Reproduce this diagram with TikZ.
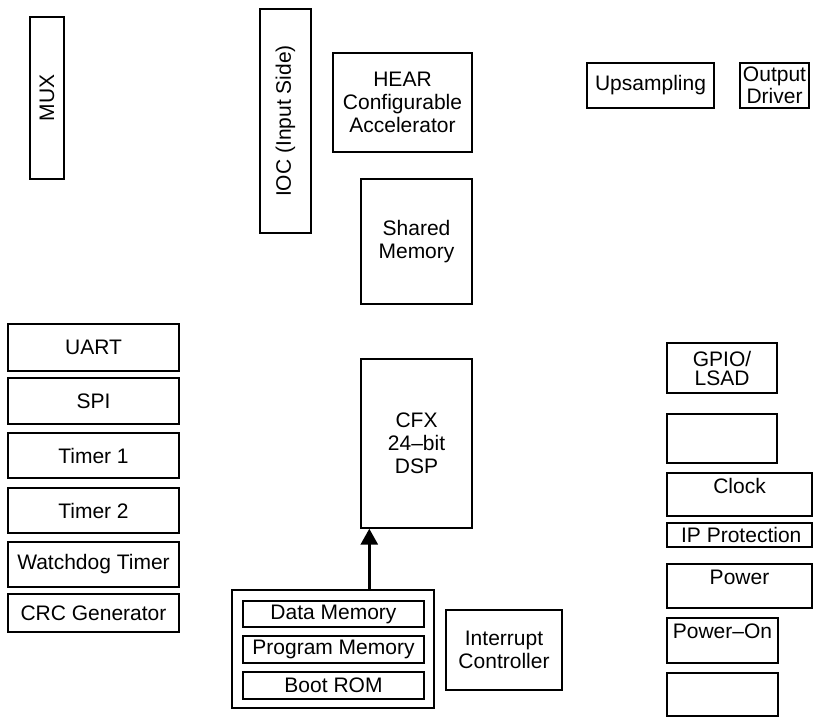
\documentclass[tikz,border=0pt]{standalone}
\usepackage{fontspec}
\setmainfont{Liberation Sans}
\usetikzlibrary{positioning,arrows.meta}

\tikzset{
  blk/.style={draw, line width=0.7pt, inner sep=1pt, align=center,
    font=\fontsize{10.5}{11.5}\selectfont},
  lbl/.style={inner sep=0pt, font=\fontsize{10.5}{11.5}\selectfont},
  busarrow/.style={line width=1.5pt, -{Triangle[length=8pt,width=8.5pt]}}
}

\begin{document}
\begin{tikzpicture}[x=0.5pt, y=-0.5pt]
  \useasboundingbox (0,0) rectangle (813,717);

  % input side
  \node[blk, rotate=90, minimum width=81pt, minimum height=17pt] (mux) at (47,98) {MUX};
  \node[blk, rotate=90, minimum width=112pt, minimum height=25.5pt] (ioc) at (285.5,121) {IOC (Input Side)};
  \node[blk, minimum width=69.5pt, minimum height=49.5pt] (hear) at (402.5,102.5) {HEAR\\Configurable\\Accelerator};
  \node[blk, minimum width=55.5pt, minimum height=62.5pt] (shmem) at (416.5,241.5) {Shared\\Memory};

  % output side
  \node[blk, minimum width=63.5pt, minimum height=22.5pt] (ups) at (650.5,85.5) {Upsampling};
  \node[blk, minimum width=34.5pt, minimum height=22.5pt,
    font=\fontsize{10.5}{9.5}\selectfont] (outdrv) at (774.5,85.5) {Output\\Driver};

  % peripherals
  \node[blk, minimum width=85.5pt, minimum height=23.5pt] (uart) at (93.5,347.5) {UART};
  \node[blk, minimum width=85.5pt, minimum height=23pt] (spi) at (93.5,401) {SPI};
  \node[blk, minimum width=85.5pt, minimum height=22.5pt] (tmra) at (93.5,455.5) {Timer 1};
  \node[blk, minimum width=85.5pt, minimum height=22.5pt] (tmrb) at (93.5,510.5) {Timer 2};
  \node[blk, minimum width=85.5pt, minimum height=22.5pt] (wdt) at (93.5,564.5) {Watchdog Timer};
  \node[blk, minimum width=85.5pt, minimum height=19pt] (crc) at (93.5,613) {CRC Generator};

  % DSP core and memories
  \node[blk, minimum width=55.5pt, minimum height=84.5pt] (cfx) at (416.5,443.5) {CFX\\24--bit\\DSP};
  \node[blk, minimum width=101pt, minimum height=59pt] (mem) at (333,649) {};
  \node[blk, minimum width=90.5pt, minimum height=13pt] (dmem) at (333.5,614) {Data Memory};
  \node[blk, minimum width=90.5pt, minimum height=13.5pt] (pmem) at (333.5,649.5) {Program Memory};
  \node[blk, minimum width=90.5pt, minimum height=13.5pt] (brom) at (333.5,685.5) {Boot ROM};
  \node[blk, minimum width=58pt, minimum height=40pt] (intc) at (504,650) {Interrupt\\Controller};

  \coordinate (memport) at ([xshift=4.5pt]cfx.south west);
  \draw[busarrow] (memport |- mem.north) -- (memport);

  % system blocks
  \node[blk, minimum width=55pt, minimum height=25pt,
    font=\fontsize{10.5}{9.5}\selectfont] (gpio) at (722,368) {GPIO/\\LSAD};
  \node[blk, minimum width=55pt, minimum height=24.5pt] (spare) at (722,438.5) {};
  \node[blk, minimum width=72.5pt, minimum height=21.5pt] (clk) at (739.5,494.5) {};
  \node[lbl, below=3pt of clk.north] (clktxt) {Clock};
  \node[blk, minimum width=72.5pt, minimum height=12pt] (ipp) at (739.5,535) {\,IP Protection};
  \node[blk, minimum width=72.5pt, minimum height=22pt] (pwr) at (739.5,586) {};
  \node[lbl, below=3pt of pwr.north] (pwrtxt) {Power};
  \node[blk, minimum width=55.5pt, minimum height=22.5pt] (por) at (722.5,640.5) {};
  \node[lbl, below=3pt of por.north] (portxt) {Power--On};
  \node[blk, minimum width=55.5pt, minimum height=21.5pt] (spareb) at (722.5,694.5) {};
\end{tikzpicture}
\end{document}
